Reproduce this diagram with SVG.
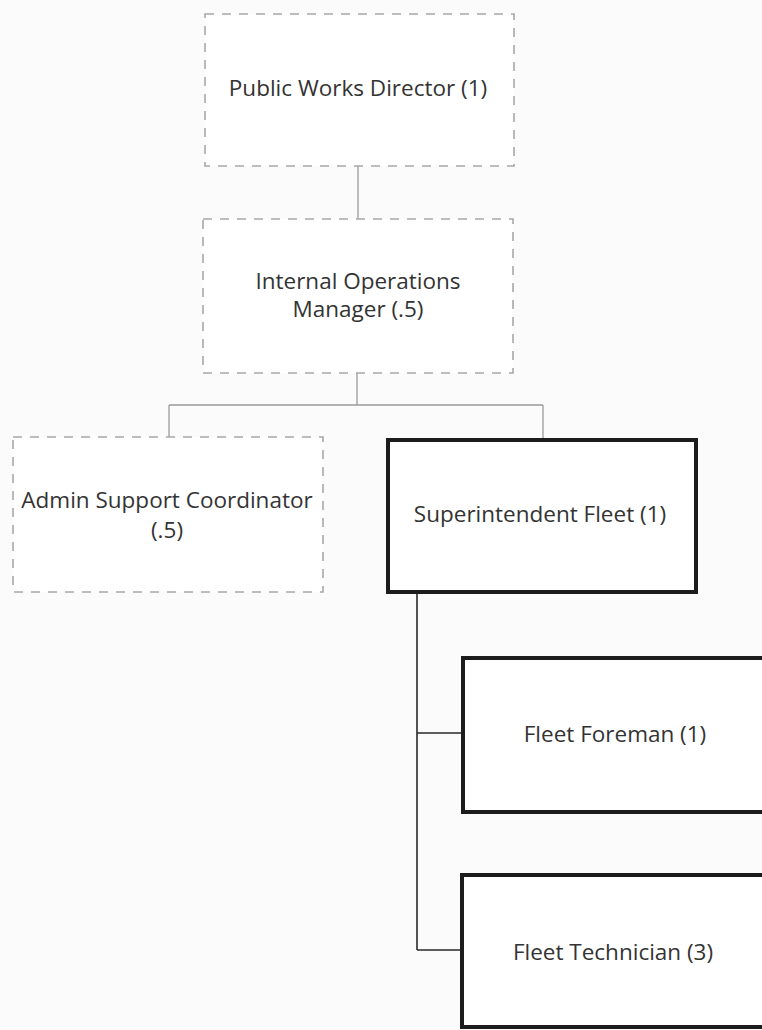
<svg xmlns="http://www.w3.org/2000/svg" width="762" height="1030" viewBox="0 0 762 1030">
  <style>
    .dash { fill: #ffffff; stroke: #a8a8a8; stroke-width: 1.6; stroke-dasharray: 9 8; }
    .solid { fill: #ffffff; stroke: #1c1c1c; stroke-width: 4; }
    .lbl { font-family: "Open Sans", "Liberation Sans", sans-serif; font-size: 22.5px; fill: #333333; text-anchor: middle; }
    .c-light { fill: none; stroke: #9a9a9a; stroke-width: 1.3; }
    .c-dark { fill: none; stroke: #2a2a2a; stroke-width: 1.6; }
  </style>
  <rect x="0" y="0" width="762" height="1030" fill="#fbfbfb"/>
  <g id="connectors">
    <path class="c-light" d="M358 166 V219"/>
    <path class="c-light" d="M357 373 V405 M169 405 H543 M169 405 V437 M543 405 V440"/>
    <path class="c-dark" d="M417 592 V950 M417 733 H463 M417 950 H463"/>
  </g>
  <g id="public-works-director">
    <rect class="dash" x="205" y="14" width="309" height="152"/>
    <text class="lbl" x="358" y="96">Public Works Director (1)</text>
  </g>
  <g id="internal-operations-manager">
    <rect class="dash" x="203" y="219" width="310" height="154"/>
    <text class="lbl" x="358" y="289">Internal Operations</text>
    <text class="lbl" x="358" y="317">Manager (.5)</text>
  </g>
  <g id="admin-support-coordinator">
    <rect class="dash" x="13" y="437" width="310" height="155"/>
    <text class="lbl" x="167" y="508">Admin Support Coordinator</text>
    <text class="lbl" x="167" y="538">(.5)</text>
  </g>
  <g id="superintendent-fleet">
    <rect class="solid" x="388" y="440" width="308" height="152"/>
    <text class="lbl" x="540" y="522">Superintendent Fleet (1)</text>
  </g>
  <g id="fleet-foreman">
    <rect class="solid" x="463" y="658" width="320" height="154"/>
    <text class="lbl" x="615" y="742">Fleet Foreman (1)</text>
  </g>
  <g id="fleet-technician">
    <rect class="solid" x="462" y="875" width="320" height="152"/>
    <text class="lbl" x="613" y="960">Fleet Technician (3)</text>
  </g>
</svg>
